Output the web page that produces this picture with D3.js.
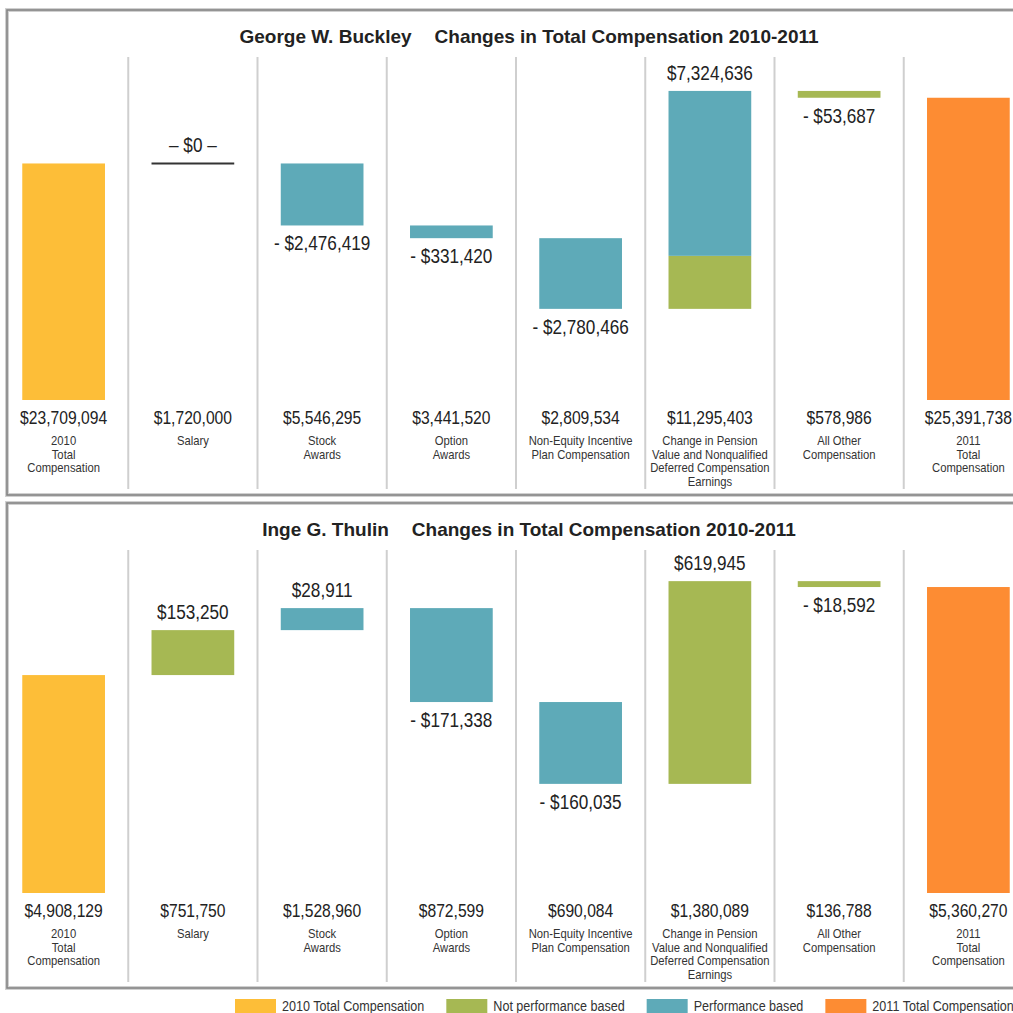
<!DOCTYPE html>
<html>
<head>
<meta charset="utf-8">
<script src="https://cdn.jsdelivr.net/npm/d3@7"></script>
<style>
  body { margin: 0; background: #fff; }
  svg { display: block; }
  text { font-family: "Liberation Sans", Arial, sans-serif; fill: #222; }
</style>
</head>
<body>
<div id="chart"></div>
<script>
// columns of each waterfall
var categories = ["2010", "Salary", "Stock", "Option", "NonEquity", "Pension", "Other", "2011"];
var categoryLines = [
    ["2010", "Total", "Compensation"],
    ["Salary"],
    ["Stock", "Awards"],
    ["Option", "Awards"],
    ["Non-Equity Incentive", "Plan Compensation"],
    ["Change in Pension", "Value and Nonqualified", "Deferred Compensation", "Earnings"],
    ["All Other", "Compensation"],
    ["2011", "Total", "Compensation"]
];

// George W. Buckley
var buckleyTotals = ["$23,709,094", "$1,720,000", "$5,546,295", "$3,441,520", "$2,809,534", "$11,295,403", "$578,986", "$25,391,738"];
var buckleyChangeLabels = ["\u2013 $0 \u2013", "- $2,476,419", "- $331,420", "- $2,780,466", "$7,324,636", "- $53,687"];
// bar heights are not to scale in the original, so they are read off the picture in relative units (0-100)
var buckleyStart = 76.3;
var buckleyStepCat = ["Salary", "Stock", "Option", "NonEquity", "Pension", "Pension", "Other"];
var buckleyStepType = ["zero", "perf", "perf", "perf", "notPerf", "perf", "notPerf"];
var buckleyStepSize = [0, -20.0, -4.1, -22.8, 17.1, 53.2, -2.2];

// Inge G. Thulin
var thulinTotals = ["$4,908,129", "$751,750", "$1,528,960", "$872,599", "$690,084", "$1,380,089", "$136,788", "$5,360,270"];
var thulinChangeLabels = ["$153,250", "$28,911", "- $171,338", "- $160,035", "$619,945", "- $18,592"];
var thulinStart = 70.3;
var thulinStepCat = ["Salary", "Stock", "Option", "NonEquity", "Pension", "Other"];
var thulinStepType = ["notPerf", "perf", "perf", "perf", "notPerf", "notPerf"];
var thulinStepSize = [14.5, 7.1, -30.3, -26.4, 65.4, -1.9];

var legendKeys = ["start", "notPerf", "perf", "end"];
var legendLabels = ["2010 Total Compensation", "Not performance based", "Performance based", "2011 Total Compensation"];

var colors = {start: "#fdbe38", notPerf: "#a6b853", perf: "#5eaab8", end: "#fd8c33", zero: "#333"};

var width = 1013;
var height = 1013;
var narrow = 0.88; // squeeze text horizontally, the original uses a condensed face

var svg = d3.select("#chart").append("svg")
    .attr("width", width)
    .attr("height", height);

var xScale = d3.scaleBand()
    .domain(categories)
    .range([-1, 1033])
    .paddingInner(0.36)
    .paddingOuter(0.18);

var gapHalf = (xScale.step() - xScale.bandwidth()) / 2;

function narrowText(parent, x, y) {
    return parent.append("text")
        .attr("transform", "translate(" + x + "," + y + ") scale(" + narrow + ",1)");
}

function buildPanel(top, name, start, stepCat, stepType, stepSize, totals, changeLabels) {
    var g = svg.append("g").attr("transform", "translate(0," + top + ")");
    var baseline = 390;

    var yScale = d3.scaleLinear()
        .domain([0, 100])
        .range([baseline, baseline - 310]);

    // frame
    g.append("rect")
        .attr("x", 7).attr("y", 0)
        .attr("width", 1040).attr("height", 485)
        .attr("fill", "none")
        .attr("stroke", "#d0d0d0")
        .attr("stroke-width", 4);
    g.append("rect")
        .attr("x", 7).attr("y", 0)
        .attr("width", 1040).attr("height", 485)
        .attr("fill", "none")
        .attr("stroke", "#858585")
        .attr("stroke-width", 1.6);

    // column separators
    g.selectAll(".sep")
        .data(categories.slice(1))
        .enter().append("line")
        .attr("class", "sep")
        .attr("x1", function(d) { return xScale(d) - gapHalf; })
        .attr("x2", function(d) { return xScale(d) - gapHalf; })
        .attr("y1", 47)
        .attr("y2", 479)
        .attr("stroke", "#cfcfcf")
        .attr("stroke-width", 2);

    // title
    var title = g.append("text")
        .attr("x", 529)
        .attr("y", 26)
        .attr("text-anchor", "middle")
        .attr("dominant-baseline", "central")
        .style("font-weight", "bold")
        .style("font-size", "19px");
    title.append("tspan").text(name);
    title.append("tspan").attr("dx", 23).text("Changes in Total Compensation 2010-2011");

    // waterfall steps
    var level = start;
    var steps = stepCat.map(function(c, i) {
        var s = {cat: c, type: stepType[i], from: level, to: level + stepSize[i]};
        level += stepSize[i];
        return s;
    });
    var end = level;

    // start / end totals
    var totalBars = [
        {cat: "2010", type: "start", value: start},
        {cat: "2011", type: "end", value: end}
    ];
    g.selectAll(".total")
        .data(totalBars)
        .enter().append("rect")
        .attr("class", "total")
        .attr("x", function(d) { return xScale(d.cat); })
        .attr("width", xScale.bandwidth())
        .attr("y", function(d) { return yScale(d.value); })
        .attr("height", function(d) { return yScale(0) - yScale(d.value); })
        .attr("fill", function(d) { return colors[d.type]; });

    g.selectAll(".step")
        .data(steps.filter(function(d) { return d.type !== "zero"; }))
        .enter().append("rect")
        .attr("class", "step")
        .attr("x", function(d) { return xScale(d.cat); })
        .attr("width", xScale.bandwidth())
        .attr("y", function(d) { return yScale(Math.max(d.from, d.to)); })
        .attr("height", function(d) { return Math.abs(yScale(d.from) - yScale(d.to)); })
        .attr("fill", function(d) { return colors[d.type]; });

    g.selectAll(".zero")
        .data(steps.filter(function(d) { return d.type === "zero"; }))
        .enter().append("line")
        .attr("class", "zero")
        .attr("x1", function(d) { return xScale(d.cat); })
        .attr("x2", function(d) { return xScale(d.cat) + xScale.bandwidth(); })
        .attr("y1", function(d) { return yScale(d.from); })
        .attr("y2", function(d) { return yScale(d.from); })
        .attr("stroke", colors.zero)
        .attr("stroke-width", 2);

    // change labels, above rises and below drops
    categories.slice(1, 7).forEach(function(c, i) {
        var mine = steps.filter(function(s) { return s.cat === c; });
        var lo = d3.min(mine, function(s) { return Math.min(s.from, s.to); });
        var hi = d3.max(mine, function(s) { return Math.max(s.from, s.to); });
        var net = d3.sum(mine, function(s) { return s.to - s.from; });
        var y = net >= 0 ? yScale(hi) - 18 : yScale(lo) + 18;
        narrowText(g, xScale(c) + xScale.bandwidth() / 2, y)
            .attr("text-anchor", "middle")
            .attr("dominant-baseline", "central")
            .style("font-size", "19.5px")
            .text(changeLabels[i]);
    });

    // totals and names under each column
    categories.forEach(function(c, i) {
        var cx = xScale(c) + xScale.bandwidth() / 2;
        narrowText(g, cx, baseline + 18)
            .attr("text-anchor", "middle")
            .attr("dominant-baseline", "central")
            .style("font-size", "17.8px")
            .text(totals[i]);

        narrowText(g, cx, baseline + 41)
            .attr("text-anchor", "middle")
            .attr("dominant-baseline", "central")
            .style("font-size", "12.8px")
            .style("fill", "#333")
            .selectAll("tspan")
            .data(categoryLines[i])
            .enter().append("tspan")
            .attr("x", 0)
            .attr("dy", function(d, j) { return j === 0 ? 0 : 13.5; })
            .text(function(d) { return d; });
    });
}

buildPanel(10, "George W. Buckley", buckleyStart, buckleyStepCat, buckleyStepType, buckleyStepSize, buckleyTotals, buckleyChangeLabels);
buildPanel(503, "Inge G. Thulin", thulinStart, thulinStepCat, thulinStepType, thulinStepSize, thulinTotals, thulinChangeLabels);

// legend
var legend = svg.append("g").attr("transform", "translate(235,999)");
var lx = 0;
legendKeys.forEach(function(k, i) {
    var item = legend.append("g").attr("transform", "translate(" + lx + ",0)");
    item.append("rect")
        .attr("width", 41)
        .attr("height", 14)
        .attr("fill", colors[k]);
    var t = narrowText(item, 47, 7)
        .attr("dominant-baseline", "central")
        .style("font-size", "14.3px")
        .style("fill", "#333")
        .text(legendLabels[i]);
    lx += 47 + t.node().getComputedTextLength() * narrow + 22;
});
</script>
</body>
</html>
